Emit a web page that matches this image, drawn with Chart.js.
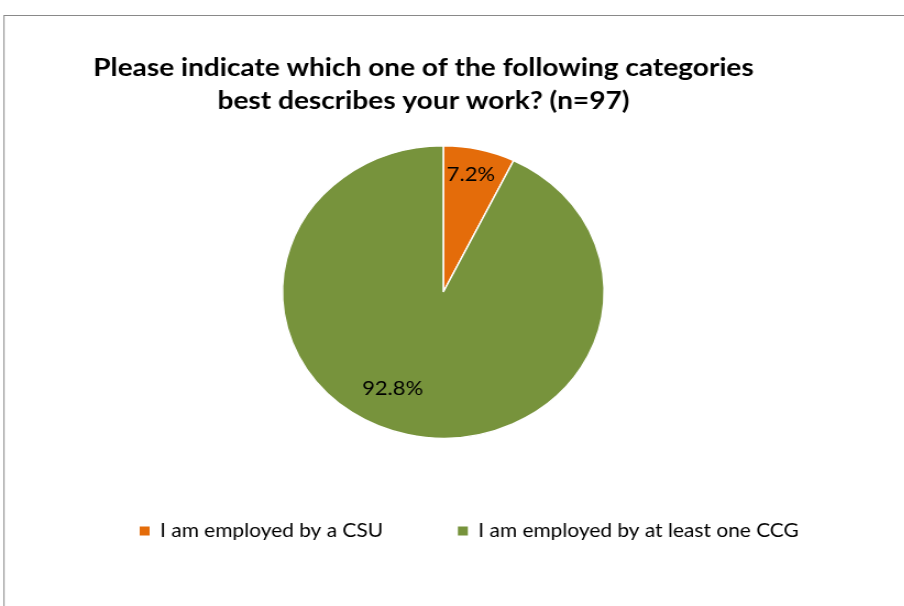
<!DOCTYPE html>
<html><head><meta charset="utf-8">
<script src="https://cdn.jsdelivr.net/npm/chart.js@4/dist/chart.umd.min.js"></script>
<style>
html,body{margin:0;padding:0;background:#fff;overflow:hidden;width:904px;height:606px;}
#wrap{position:absolute;left:0;top:0;width:822px;height:606px;transform:scaleX(1.1);transform-origin:0 0;}
</style></head><body>
<div id="wrap"><canvas id="c"></canvas></div>
<script>
const categories = ['I am employed by a CSU', 'I am employed by at least one CCG'];
const values = [7.2, 92.8];
const sliceColors = ['#E46C0A', '#77933C'];
const titleLines = ['Please indicate which one of the following categories', 'best describes your work? (n=97)'];
const labelRadius = [0.82, 0.73];
const labelAngleShift = [-0.9, 12.6];

const FONT = 'Lato, "Open Sans", sans-serif';

const frame = {
  id: 'frame',
  beforeDraw(chart) {
    const ctx = chart.ctx;
    ctx.save();
    ctx.fillStyle = '#fff';
    ctx.fillRect(0, 0, chart.width, chart.height);
    ctx.strokeStyle = '#898989';
    ctx.lineWidth = 1;
    ctx.strokeRect(3.6, 15.5, 1000, 1000);
    ctx.restore();
  }
};

const shiftBoxes = {
  id: 'shiftBoxes',
  afterLayout(chart) {
    const t = chart.titleBlock;
    t.left -= 18; t.right -= 18;
    const lg = chart.legend;
    lg.left += 59; lg.right += 59;
    lg.top += 14.5; lg.bottom += 14.5;
  }
};

const sliceLabels = {
  id: 'sliceLabels',
  afterDatasetsDraw(chart) {
    const ctx = chart.ctx;
    const meta = chart.getDatasetMeta(0);
    ctx.save();
    ctx.font = '20px ' + FONT;
    ctx.fillStyle = '#000';
    ctx.textAlign = 'center';
    ctx.textBaseline = 'middle';
    meta.data.forEach((arc, i) => {
      const p = arc.getProps(['x', 'y', 'startAngle', 'endAngle', 'outerRadius'], true);
      const a = (p.startAngle + p.endAngle) / 2 + labelAngleShift[i] * Math.PI / 180;
      const r = p.outerRadius * labelRadius[i];
      ctx.fillText(values[i].toFixed(1) + '%', p.x + Math.cos(a) * r, p.y + Math.sin(a) * r);
    });
    ctx.restore();
  }
};

new Chart(document.getElementById('c'), {
  type: 'pie',
  data: {
    labels: categories,
    datasets: [{
      data: values,
      backgroundColor: sliceColors,
      borderColor: '#ffffff',
      borderWidth: 1.5,
      hoverOffset: 0
    }]
  },
  options: {
    responsive: true,
    maintainAspectRatio: false,
    animation: false,
    events: [],
    layout: { padding: { left: 0, right: 16, top: 0, bottom: 70 } },
    plugins: {
      title: {
        display: true,
        text: titleLines,
        color: '#000',
        font: { family: FONT, size: 25.5, weight: 'bold', lineHeight: 1.294 },
        padding: { top: 51.5, bottom: 27.5 }
      },
      legend: {
        position: 'bottom',
        align: 'start',
        labels: {
          boxWidth: 9,
          boxHeight: 9,
          padding: 68,
          color: '#000',
          font: { family: FONT, size: 19 },
          generateLabels(chart) {
            const items = Chart.overrides.pie.plugins.legend.labels.generateLabels(chart);
            items.forEach(it => { it.lineWidth = 0; it.strokeStyle = 'rgba(0,0,0,0)'; });
            return items;
          }
        }
      },
      tooltip: { enabled: false }
    }
  },
  plugins: [frame, shiftBoxes, sliceLabels]
});
</script>
</body></html>
